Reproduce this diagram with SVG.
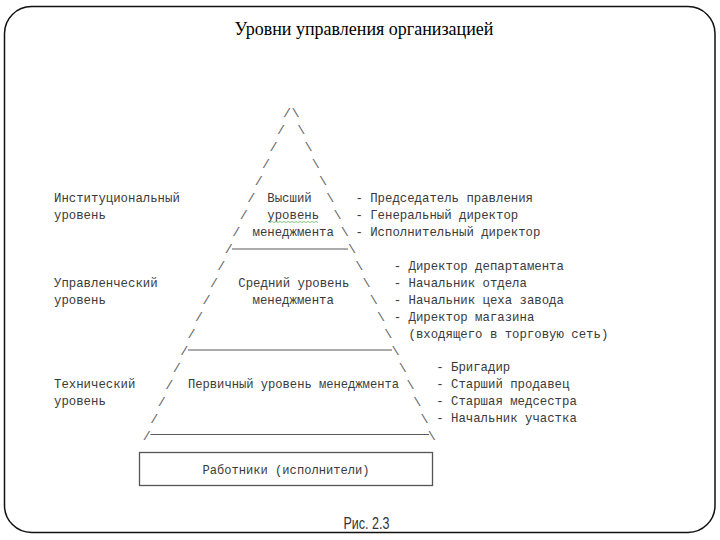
<svg xmlns="http://www.w3.org/2000/svg" width="720" height="540" viewBox="0 0 720 540">
<style>
.mono{font-family:"Liberation Mono","DejaVu Sans Mono",monospace;font-size:13.5px;fill:#3a3a3a}
.sl{font-family:"Liberation Mono","DejaVu Sans Mono",monospace;font-size:13.5px;fill:#666;text-anchor:middle}
.rule{stroke:#5a5a5a;stroke-width:1.2;fill:none}
.title{font-family:"Liberation Serif","Times New Roman",serif;font-size:18px;fill:#000;text-anchor:middle}
</style>
<rect x="4.5" y="6.5" width="710.5" height="526" rx="27" ry="27" fill="#fff" stroke="#111" stroke-width="1.5"/>
<g id="title"><text class="title" x="364" y="35">Уровни управления организацией</text></g>

<g id="pyramid-edges">
<text class="sl" x="287" y="116.5">/</text><text class="sl" x="295.5" y="116.5">\</text>
<text class="sl" x="281" y="133.5">/</text><text class="sl" x="301.2" y="133.5">\</text>
<text class="sl" x="273.6" y="150.5">/</text><text class="sl" x="308.5" y="150.5">\</text>
<text class="sl" x="266.1" y="167.5">/</text><text class="sl" x="315.7" y="167.5">\</text>
<text class="sl" x="258.7" y="184.5">/</text><text class="sl" x="323" y="184.5">\</text>
<text class="sl" x="251.2" y="201.5">/</text><text class="sl" x="330.2" y="201.5">\</text>
<text class="sl" x="243.8" y="218.5">/</text><text class="sl" x="337.5" y="218.5">\</text>
<text class="sl" x="236.3" y="235.5">/</text><text class="sl" x="344.7" y="235.5">\</text>
<text class="sl" x="228.9" y="252.5">/</text><text class="sl" x="352" y="252.5">\</text>
<text class="sl" x="221.4" y="269.5">/</text><text class="sl" x="359.2" y="269.5">\</text>
<text class="sl" x="214" y="286.5">/</text><text class="sl" x="366.5" y="286.5">\</text>
<text class="sl" x="206.5" y="303.5">/</text><text class="sl" x="373.7" y="303.5">\</text>
<text class="sl" x="199.1" y="320.5">/</text><text class="sl" x="381" y="320.5">\</text>
<text class="sl" x="191.6" y="337.5">/</text><text class="sl" x="388.2" y="337.5">\</text>
<text class="sl" x="184.2" y="354.5">/</text><text class="sl" x="395.5" y="354.5">\</text>
<text class="sl" x="176.7" y="371.5">/</text><text class="sl" x="402.7" y="371.5">\</text>
<text class="sl" x="169.3" y="388.5">/</text><text class="sl" x="410.5" y="388.5">\</text>
<text class="sl" x="161.8" y="405.5">/</text><text class="sl" x="417.2" y="405.5">\</text>
<text class="sl" x="154.4" y="422.5">/</text><text class="sl" x="424.5" y="422.5">\</text>
<text class="sl" x="146.9" y="439.5">/</text><text class="sl" x="431.7" y="439.5">\</text>
<line class="rule" x1="232" y1="249" x2="348" y2="249"/>
<line class="rule" x1="188" y1="350" x2="392" y2="350"/>
<line class="rule" x1="150.5" y1="434.5" x2="429" y2="434.5" stroke-width="1.8" stroke="#777"/>
</g>

<g id="level1">
<text class="mono" x="54" y="202" textLength="125.8" lengthAdjust="spacingAndGlyphs">Институциональный</text>
<text class="mono" x="54" y="219" textLength="51.8" lengthAdjust="spacingAndGlyphs">уровень</text>
<text class="mono" x="267.3" y="202" textLength="44.4" lengthAdjust="spacingAndGlyphs">Высший</text>
<text class="mono" x="267.3" y="219" textLength="51.8" lengthAdjust="spacingAndGlyphs">уровень</text>
<polyline points="268,221.5 270,222.5 272,221.5 274,222.5 276,221.5 278,222.5 280,221.5 282,222.5 284,221.5 286,222.5 288,221.5 290,222.5 292,221.5 294,222.5 296,221.5 298,222.5 300,221.5 302,222.5 304,221.5 306,222.5 308,221.5 310,222.5 312,221.5 314,222.5 316,221.5 318,222.5" fill="none" stroke="#7ab87a" stroke-width="0.9"/>
<text class="mono" x="252.5" y="236" textLength="81.4" lengthAdjust="spacingAndGlyphs">менеджмента</text>
<text class="mono" x="355.4" y="202" textLength="177.6" lengthAdjust="spacingAndGlyphs">- Председатель правления</text>
<text class="mono" x="355.4" y="219" textLength="162.8" lengthAdjust="spacingAndGlyphs">- Генеральный директор</text>
<text class="mono" x="355.4" y="236" textLength="185" lengthAdjust="spacingAndGlyphs">- Исполнительный директор</text>
</g>

<g id="level2">
<text class="mono" x="54" y="287" textLength="103.6" lengthAdjust="spacingAndGlyphs">Управленческий</text>
<text class="mono" x="54" y="304" textLength="51.8" lengthAdjust="spacingAndGlyphs">уровень</text>
<text class="mono" x="238.3" y="287" textLength="111" lengthAdjust="spacingAndGlyphs">Средний уровень</text>
<text class="mono" x="252.5" y="304" textLength="81.4" lengthAdjust="spacingAndGlyphs">менеджмента</text>
<text class="mono" x="393.7" y="270" textLength="170.2" lengthAdjust="spacingAndGlyphs">- Директор департамента</text>
<text class="mono" x="393.7" y="287" textLength="133.2" lengthAdjust="spacingAndGlyphs">- Начальник отдела</text>
<text class="mono" x="393.7" y="304" textLength="170.2" lengthAdjust="spacingAndGlyphs">- Начальник цеха завода</text>
<text class="mono" x="393.7" y="321" textLength="140.6" lengthAdjust="spacingAndGlyphs">- Директор магазина</text>
<text class="mono" x="408.5" y="338" textLength="199.8" lengthAdjust="spacingAndGlyphs">(входящего в торговую сеть)</text>
</g>

<g id="level3">
<text class="mono" x="54" y="388" textLength="81.4" lengthAdjust="spacingAndGlyphs">Технический</text>
<text class="mono" x="54" y="405" textLength="51.8" lengthAdjust="spacingAndGlyphs">уровень</text>
<text class="mono" x="188" y="388" textLength="211" lengthAdjust="spacingAndGlyphs">Первичный уровень менеджмента</text>
<text class="mono" x="436.2" y="371" textLength="74" lengthAdjust="spacingAndGlyphs">- Бригадир</text>
<text class="mono" x="436.2" y="388" textLength="133.2" lengthAdjust="spacingAndGlyphs">- Старший продавец</text>
<text class="mono" x="436.2" y="405" textLength="140.6" lengthAdjust="spacingAndGlyphs">- Старшая медсестра</text>
<text class="mono" x="436.2" y="422" textLength="140.6" lengthAdjust="spacingAndGlyphs">- Начальник участка</text>
</g>

<g id="workers">
<rect x="139.5" y="452.5" width="293" height="33" fill="#fff" stroke="#555" stroke-width="1.3"/>
<text class="mono" x="286" y="474" text-anchor="middle" textLength="167" lengthAdjust="spacingAndGlyphs">Работники (исполнители)</text>
</g>

<g id="caption">
<text x="343.5" y="529" font-family="'Liberation Sans', Arial, sans-serif" font-size="16" fill="#333" textLength="46" lengthAdjust="spacingAndGlyphs">Рис. 2.3</text>
</g>
</svg>
